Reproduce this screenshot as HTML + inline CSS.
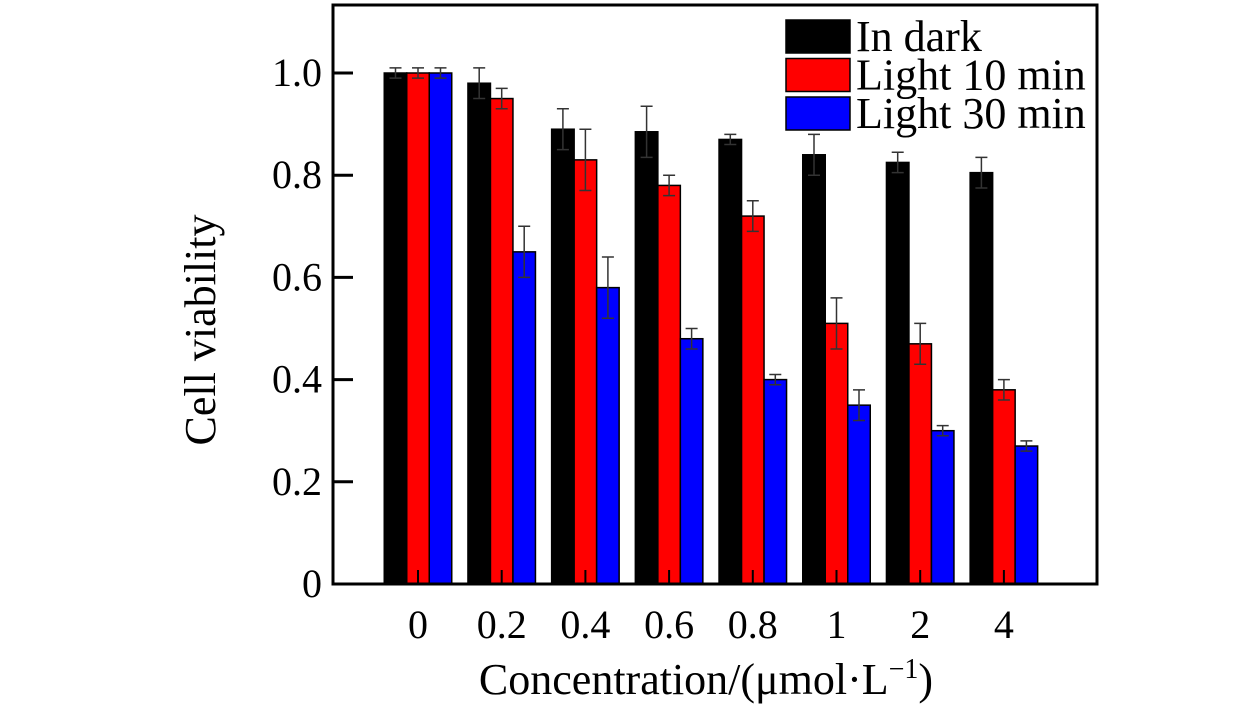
<!DOCTYPE html>
<html><head><meta charset="utf-8"><style>
body{margin:0;background:#fff;}
svg{display:block;font-family:"Liberation Serif",serif;}
</style></head><body>
<svg id="c" width="1260" height="709"></svg>
<script>
const categories=["0","0.2","0.4","0.6","0.8","1","2","4"];
const seriesNames=["In dark","Light 10 min","Light 30 min"];
const seriesColors=["#000000","#ff0000","#0000ff"];
const darkVals=[1.0,0.98,0.89,0.885,0.87,0.84,0.825,0.805];
const darkErr=[0.01,0.03,0.04,0.05,0.01,0.04,0.02,0.03];
const light10Vals=[1.0,0.95,0.83,0.78,0.72,0.51,0.47,0.38];
const light10Err=[0.01,0.02,0.06,0.02,0.03,0.05,0.04,0.02];
const light30Vals=[1.0,0.65,0.58,0.48,0.40,0.35,0.30,0.27];
const light30Err=[0.01,0.05,0.06,0.02,0.01,0.03,0.01,0.01];
const yTicks=[0,0.2,0.4,0.6,0.8,1.0];
const yTickLabels=["0","0.2","0.4","0.6","0.8","1.0"];

const svg=document.getElementById('c');
const NS="http://www.w3.org/2000/svg";
const L=333,R=1097,T=5,B=584;
const y=v=>B-v*511;
const gx=i=>418+i*83.7;
const bw=22.5;
function mk(t,a){const e=document.createElementNS(NS,t);for(const k in a)e.setAttribute(k,a[k]);svg.appendChild(e);return e;}
const vals=[darkVals,light10Vals,light30Vals],errs=[darkErr,light10Err,light30Err];
categories.forEach((c,i)=>{
  for(let s=0;s<3;s++){
    const x=gx(i)+(s-1.5)*bw, v=vals[s][i], e=errs[s][i];
    const r=mk('rect',{x:x,y:y(v),width:bw,height:B-y(v),fill:seriesColors[s],stroke:'#000','stroke-width':1.5});
    
    
    const cx=x+bw/2;
    const eb=mk('path',{d:`M${cx},${y(v-e)}V${y(v+e)}M${cx-6},${y(v+e)}H${cx+6}M${cx-6},${y(v-e)}H${cx+6}`,stroke:'#333','stroke-width':1.5,fill:'none'});
    
    
  }
  const tk=mk('line',{x1:gx(i),x2:gx(i),y1:B,y2:B-14,stroke:'#000','stroke-width':2});
  
  
  const t=mk('text',{x:gx(i),y:638,'font-size':40,'text-anchor':'middle'});t.textContent=c;
  
  
});
yTicks.forEach((v,i)=>{
  const tk=mk('line',{x1:L,x2:L+20,y1:y(v),y2:y(v),stroke:'#000','stroke-width':3});
  
  
  const t=mk('text',{x:322,y:y(v)+13,'font-size':40,'text-anchor':'end'});t.textContent=yTickLabels[i];
  
  
});
const fr=mk('rect',{x:L,y:T,width:R-L,height:B-T,fill:'none',stroke:'#000','stroke-width':3});


seriesNames.forEach((n,s)=>{
  const ry=20+s*38.5;
  const sw=mk('rect',{x:786,y:ry,width:64,height:33,fill:seriesColors[s],stroke:'#000','stroke-width':1.5});
  
  
  const t=mk('text',{x:856,y:ry+31,'font-size':44});t.textContent=n;
  
  
});
const xt=mk('text',{x:706,y:694,'font-size':44,'text-anchor':'middle'});
xt.innerHTML='Concentration/(μmol·L<tspan dy="-16" font-size="28">−1</tspan><tspan dy="16">)</tspan>';


const yt=mk('text',{x:0,y:0,'font-size':44,'text-anchor':'middle',transform:'translate(215,330) rotate(-90)'});
yt.textContent='Cell viability';


</script>
</body></html>
